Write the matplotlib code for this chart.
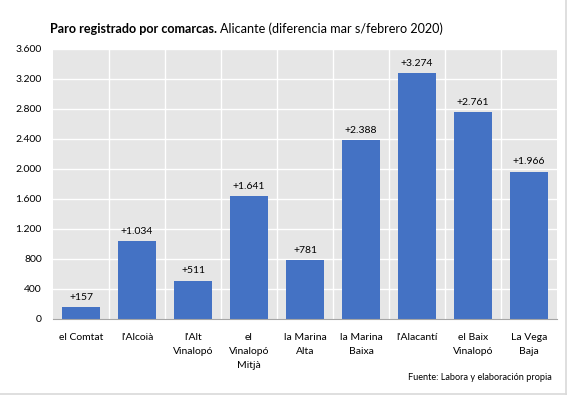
import matplotlib.pyplot as plt
from matplotlib.lines import Line2D
import numpy as np

# ── Datos ─────────────────────────────────────────────────────────────────────
comarcas = ['el Comtat', "l'Alcoià", "l'Alt\nVinalopó", 'el\nVinalopó\nMitjà',
            'la Marina\nAlta', 'la Marina\nBaixa', "l'Alacantí",
            'el Baix\nVinalopó', 'La Vega\nBaja']
diferencia = [157, 1034, 511, 1641, 781, 2388, 3274, 2761, 1966]
yticks = [0, 400, 800, 1200, 1600, 2000, 2400, 2800, 3200, 3600]

plt.rcParams['font.family'] = ['Lato', 'DejaVu Sans']

BLUE = '#4472c4'
GREY_BG = '#e6e6e6'

fig = plt.figure(figsize=(5.67, 3.95), dpi=100)
ax = fig.add_axes([53 / 567, 1 - 319 / 395, 504 / 567, 270 / 395])
ax.set_facecolor(GREY_BG)

x = np.arange(len(comarcas))
ax.bar(x, diferencia, width=0.68, color=BLUE, zorder=3)

def fmt_miles(v):
    return f'{v:,}'.replace(',', '.')

for xi, v in zip(x, diferencia):
    ax.text(xi, v + 70, '+' + fmt_miles(v), ha='center', va='bottom',
            fontsize=7.5, color='black', zorder=4)

# ── Ejes ──────────────────────────────────────────────────────────────────────
ax.set_xlim(-0.5, len(comarcas) - 0.5)
ax.set_ylim(0, 3600)
ax.set_yticks(yticks)
ax.set_yticklabels([fmt_miles(t) for t in yticks], fontsize=7.5)
ax.set_xticks(x)
ax.set_xticklabels(comarcas, fontsize=7.5, linespacing=1.75, va='top')
ax.tick_params(length=0, pad=8)
ax.tick_params(axis='x', pad=10)

for t in yticks[1:]:
    ax.axhline(t, color='white', lw=1.0, zorder=1)
for b in np.arange(0.5, len(comarcas) - 0.5, 1):
    ax.axvline(b, color='white', lw=1.0, zorder=1)

for s in ['top', 'right', 'left']:
    ax.spines[s].set_visible(False)
ax.spines['bottom'].set_color('#a6a6a6')
ax.spines['bottom'].set_zorder(5)

# ── Título y fuente ───────────────────────────────────────────────────────────
t1 = fig.text(50 / 567, 1 - 29 / 395, 'Paro registrado por comarcas.',
              fontsize=9.1, fontweight='bold', va='center', ha='left')
fig.canvas.draw()
bb = t1.get_window_extent()
fig.text((bb.x1 + 3) / 567, 1 - 29 / 395,
         'Alicante (diferencia mar s/febrero 2020)',
         fontsize=9.1, va='center', ha='left')

fig.text(552 / 567, 1 - 378 / 395, 'Fuente: Labora y elaboración propia',
         fontsize=6.6, ha='right', va='center')

# borde del gráfico
fig.add_artist(Line2D([566 / 567, 566 / 567], [0, 1], color='#d9d9d9', lw=1.2))
fig.add_artist(Line2D([0, 1], [1.5 / 395, 1.5 / 395], color='#d9d9d9', lw=1.2))

fig.savefig('out.png', dpi=100)
